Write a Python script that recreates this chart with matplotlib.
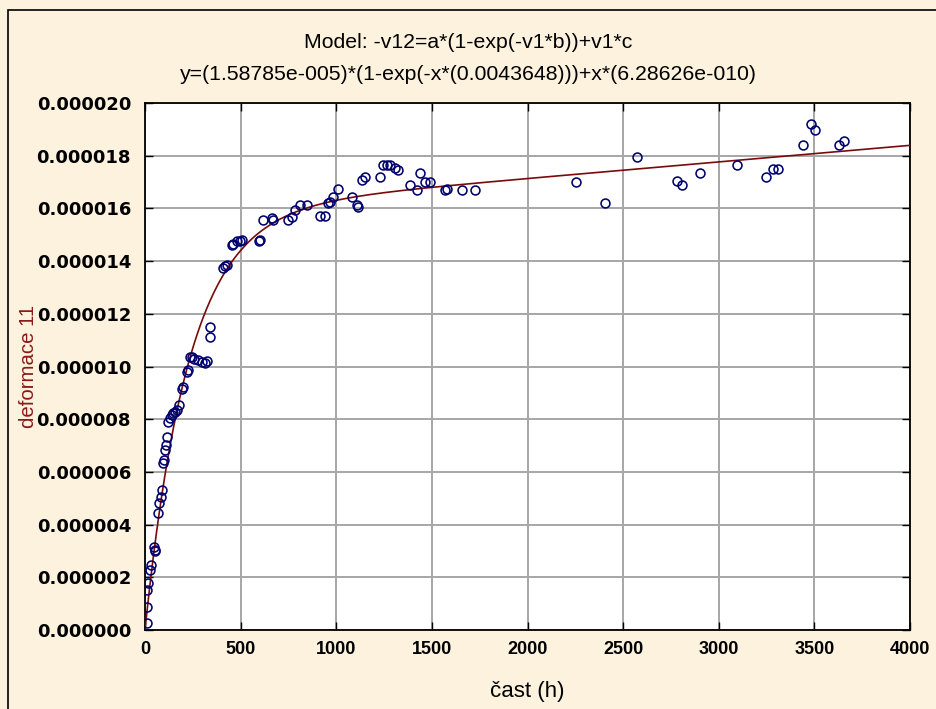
import numpy as np
import matplotlib.pyplot as plt
from matplotlib.patches import Rectangle

# measured points: time (h) and deformation (x 1e-6)
cas = [9, 9, 12, 16, 26, 30, 47, 52, 50, 70, 75, 82, 87, 92, 99, 105, 110, 117,
       122, 131, 139, 146, 157, 165, 180, 192, 200, 218, 225, 235, 247, 255, 279,
       296, 314, 322, 340, 340, 410, 418, 427, 453, 462, 480, 497, 506, 598, 601,
       619, 662, 670, 749, 767, 784, 810, 845, 915, 941, 959, 967, 985, 1011,
       1081, 1107, 1116, 1133, 1150, 1229, 1246, 1264, 1281, 1307, 1325, 1386,
       1421, 1438, 1464, 1490, 1569, 1580, 1656, 1726, 2254, 2405, 2571, 2780,
       2806, 2902, 3097, 3248, 3285, 3311, 3442, 3481, 3505, 3631, 3655]
deformace = [0.27, 0.87, 1.52, 1.78, 2.28, 2.47, 3.15, 3.04, 3.0, 4.44, 4.82, 5.05,
             5.31, 6.34, 6.45, 6.83, 7.02, 7.32, 7.9, 8.05, 8.16, 8.24, 8.27, 8.35,
             8.54, 9.15, 9.22, 9.79, 9.85, 10.36, 10.37, 10.3, 10.25, 10.18, 10.14,
             10.2, 11.5, 11.13, 13.72, 13.81, 13.84, 14.61, 14.65, 14.77, 14.77,
             14.8, 14.77, 14.8, 15.56, 15.62, 15.56, 15.56, 15.69, 15.94, 16.13,
             16.13, 15.71, 15.71, 16.19, 16.25, 16.44, 16.72, 16.44, 16.13, 16.07,
             17.08, 17.2, 17.2, 17.65, 17.65, 17.65, 17.52, 17.46, 16.89, 16.7,
             17.33, 17.02, 17.02, 16.7, 16.72, 16.7, 16.7, 17.02, 16.22, 17.94,
             17.05, 16.89, 17.36, 17.65, 17.18, 17.48, 17.48, 18.4, 19.2, 18.98,
             18.4, 18.57]

# fitted model parameters (from the title)
a = 1.58785e-005
b = 0.0043648
c = 6.28626e-010

x_ticks = [0, 500, 1000, 1500, 2000, 2500, 3000, 3500, 4000]
y_ticks = [0, 2e-6, 4e-6, 6e-6, 8e-6, 10e-6, 12e-6, 14e-6, 16e-6, 18e-6, 20e-6]

plt.rcParams['font.family'] = ['Liberation Sans', 'DejaVu Sans']

fig = plt.figure(figsize=(9.36, 7.09), dpi=100)
fig.patch.set_facecolor('#fdf2de')
# frame of the window, cut off on the right and bottom
fig.patches.append(Rectangle((8 / 936, -0.1), 1.2, 1.1 - 10 / 709,
                             transform=fig.transFigure, fill=False,
                             edgecolor='black', linewidth=1.2))

ax = fig.add_axes([145 / 936, 1 - 630 / 709, 765 / 936, 527 / 709])
ax.set_facecolor('white')

xs = np.linspace(0, 4000, 800)
ax.plot(xs, a * (1 - np.exp(-xs * b)) + xs * c, color='#7a0a0a', lw=1.2, zorder=3)
ax.plot(cas, np.array(deformace) * 1e-6, 'o', mfc='none', mec='#00006e',
        ms=6.4, mew=1.15, zorder=4)

ax.set_xlim(0, 4000)
ax.set_ylim(0, 2e-5)
ax.set_xticks(x_ticks)
ax.set_yticks(y_ticks)
ax.set_xticklabels([str(t) for t in x_ticks], fontsize=13, fontweight='bold')
ax.set_yticklabels(['%.6f' % t for t in y_ticks], family='DejaVu Sans',
                   fontsize=13, fontweight='bold')
ax.grid(True, color='#a6a6a6', lw=1.4)
ax.set_axisbelow(True)
ax.tick_params(direction='in', length=6, top=True, right=True, width=1)
ax.tick_params(axis='y', pad=10)
ax.tick_params(axis='x', pad=8)
for s in ax.spines.values():
    s.set_linewidth(1.3)

ax.set_xlabel('čast (h)', fontsize=16)
ax.set_ylabel('deformace 11', fontsize=14.7, color='#8b1a1a')
ax.xaxis.set_label_coords(0.5, -0.0968)
ax.yaxis.set_label_coords(-0.140, 0.5)

fig.text(0.5, 1 - 42 / 709, 'Model: -v12=a*(1-exp(-v1*b))+v1*c',
         ha='center', va='center', fontsize=15.3)
fig.text(0.5, 1 - 75 / 709,
         'y=(1.58785e-005)*(1-exp(-x*(0.0043648)))+x*(6.28626e-010)',
         ha='center', va='center', fontsize=15.3)

fig.savefig('out.png', dpi=100, facecolor=fig.get_facecolor())
